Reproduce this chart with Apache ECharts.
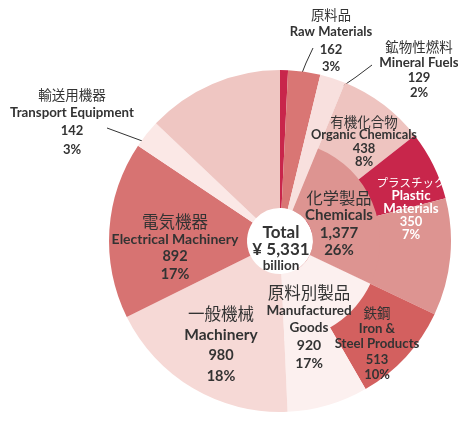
<!DOCTYPE html>
<html>
<head>
<meta charset="utf-8">
<script src="https://cdn.jsdelivr.net/npm/echarts@6/dist/echarts.min.js"></script>
<style>
  html, body { margin: 0; padding: 0; background: #fff; }
  #main { width: 458px; height: 424px; }
</style>
</head>
<body>
<div id="main"></div>
<script>
// 大分類（内側の輪）
var mainNames = ['unlabeled', 'Raw Materials', 'Mineral Fuels', 'Chemicals', 'Manufactured Goods',
  'Machinery', 'Electrical Machinery', 'Transport Equipment', 'Others'];
var mainValues = [40, 162, 129, 1377, 920, 980, 892, 142, 689];

// 小分類まで（外側の輪）
var outerNames = ['unlabeled', 'Raw Materials', 'Mineral Fuels', 'Organic Chemicals', 'Plastic Materials',
  'Other Chemicals', 'Iron & Steel Products', 'Other Manufactured Goods', 'Machinery',
  'Electrical Machinery', 'Transport Equipment', 'Others'];
var outerValues = [40, 162, 129, 438, 350, 589, 513, 407, 980, 892, 142, 689];

// ラベル
var labelNames = ['Raw Materials', 'Mineral Fuels', 'Organic Chemicals', 'Plastic Materials', 'Chemicals',
  'Manufactured Goods', 'Iron & Steel Products', 'Machinery', 'Electrical Machinery', 'Transport Equipment'];
var labelJp = ['原料品', '鉱物性燃料', '有機化合物', 'プラスチック', '化学製品',
  '原料別製品', '鉄鋼', '一般機械', '電気機器', '輸送用機器'];
var labelEn = ['Raw Materials', 'Mineral Fuels', 'Organic Chemicals', 'Plastic\nMaterials', 'Chemicals',
  'Manufactured\nGoods', 'Iron &\nSteel Products', 'Machinery', 'Electrical Machinery', 'Transport Equipment'];
var labelPct = ['3%', '2%', '8%', '7%', '26%', '17%', '10%', '18%', '17%', '3%'];

var colors = {
  'unlabeled': '#c8264b',
  'Raw Materials': '#d97674',
  'Mineral Fuels': '#f8e0de',
  'Organic Chemicals': '#eec4c0',
  'Plastic Materials': '#c8264b',
  'Other Chemicals': '#dd9491',
  'Chemicals': '#dd9491',
  'Iron & Steel Products': '#d3605f',
  'Other Manufactured Goods': '#fcf0ef',
  'Manufactured Goods': '#fcf0ef',
  'Machinery': '#f6d9d6',
  'Electrical Machinery': '#d77372',
  'Transport Equipment': '#fbe8e6',
  'Others': '#efc6c2'
};

// ラベルの位置・文字サイズ（x, y, 和文, 英文, 数字, 行高）
var labelStyle = {
  'Raw Materials':         { x: 331, y: 41,  jp: 13.3, en: 13, num: 13, lh: 17.5, line: [[313, 48], [306, 63], [300, 78]] },
  'Mineral Fuels':         { x: 419, y: 70,  jp: 13.5, en: 13.3, num: 13, lh: 15.5, line: [[372, 65], [356, 77], [340, 88]] },
  'Transport Equipment':   { x: 72,  y: 122, jp: 13.5, en: 13.3, num: 13, lh: 18.3, line: [[107, 128], [126, 135], [145, 142]] },
  'Organic Chemicals':     { x: 364, y: 142, jp: 13.5, en: 12.8, num: 13, lh: 13.5 },
  'Plastic Materials':     { x: 411, y: 209, jp: 11.5, en: 13.3, num: 13, lh: 13, color: '#fff' },
  'Chemicals':             { x: 339, y: 224, jp: 16.3, en: 15, num: 15, lh: 17.5 },
  'Manufactured Goods':    { x: 309, y: 328, jp: 16.5, en: 13.5, num: 14, lh: 17.8 },
  'Iron & Steel Products': { x: 377, y: 344, jp: 13.5, en: 13.2, num: 13, lh: 15.5 },
  'Machinery':             { x: 221, y: 345, jp: 16.5, en: 15.5, num: 14.5, lh: 21 },
  'Electrical Machinery':  { x: 175, y: 248, jp: 16.5, en: 14, num: 14.5, lh: 17.5 }
};

var textColor = '#333';

function makeLabel(name) {
  var i = labelNames.indexOf(name);
  if (i < 0) return { show: false };
  var s = labelStyle[name];
  var c = s.color || textColor;
  return {
    show: true,
    formatter: function (p) {
      return '{jp|' + labelJp[i] + '}\n{en|' + labelEn[i] + '}\n{num|' +
        p.value.toLocaleString('en-US') + '}\n{num|' + labelPct[i] + '}';
    },
    rich: {
      jp: { fontFamily: 'Noto Sans CJK JP', fontSize: s.jp, color: c, lineHeight: s.lh, align: 'center' },
      en: { fontFamily: 'Lato', fontWeight: 'bold', fontSize: s.en, color: c, lineHeight: s.lh, align: 'center' },
      num: { fontFamily: 'Lato', fontWeight: 'bold', fontSize: s.num, color: c, lineHeight: s.lh, align: 'center' }
    }
  };
}

function layoutFor(names) {
  return function (params) {
    var s = labelStyle[names[params.dataIndex]];
    if (!s) return {};
    var out = { x: s.x, y: s.y, align: 'center', verticalAlign: 'middle' };
    if (s.line) out.labelLinePoints = s.line;
    return out;
  };
}

var outerData = outerNames.map(function (n, i) {
  var s = labelStyle[n];
  return {
    name: n,
    value: outerValues[i],
    itemStyle: { color: colors[n] },
    label: makeLabel(n),
    labelLine: { show: !!(s && s.line), lineStyle: { color: '#333', width: 1 } }
  };
});

var innerData = mainNames.map(function (n, i) {
  var keep = n === 'Chemicals' || n === 'Manufactured Goods';
  return {
    name: n,
    value: mainValues[i],
    itemStyle: { color: keep ? colors[n] : 'rgba(0,0,0,0)' },
    label: keep ? makeLabel(n) : { show: false }
  };
});

var total = mainValues.reduce(function (a, b) { return a + b; }, 0);

var myChart = echarts.init(document.getElementById('main'));
var option = {
  animation: false,
  backgroundColor: '#fff',
  series: [
    {
      type: 'pie',
      center: [280, 241],
      radius: [33, 171],
      startAngle: 90,
      clockwise: true,
      avoidLabelOverlap: false,
      silent: true,
      label: { position: 'outside' },
      labelLayout: layoutFor(outerNames),
      data: outerData
    },
    {
      type: 'pie',
      center: [280, 241],
      radius: [33, 100],
      startAngle: 90,
      clockwise: true,
      avoidLabelOverlap: false,
      silent: true,
      z: 3,
      label: { position: 'inside' },
      labelLine: { show: false },
      labelLayout: layoutFor(mainNames),
      data: innerData
    }
  ],
  graphic: [
    {
      type: 'text',
      x: 281,
      y: 249,
      z: 10,
      style: {
        text: '{a|Total}\n{a|¥ ' + total.toLocaleString('en-US') + '}\n{b|billion}',
        align: 'center',
        verticalAlign: 'middle',
        rich: {
          a: { fontFamily: 'Lato', fontWeight: 'bold', fontSize: 17, fill: textColor, lineHeight: 17, align: 'center' },
          b: { fontFamily: 'Lato', fontWeight: 'bold', fontSize: 13.5, fill: textColor, lineHeight: 16, align: 'center' }
        }
      }
    }
  ]
};
myChart.setOption(option);
</script>
</body>
</html>
